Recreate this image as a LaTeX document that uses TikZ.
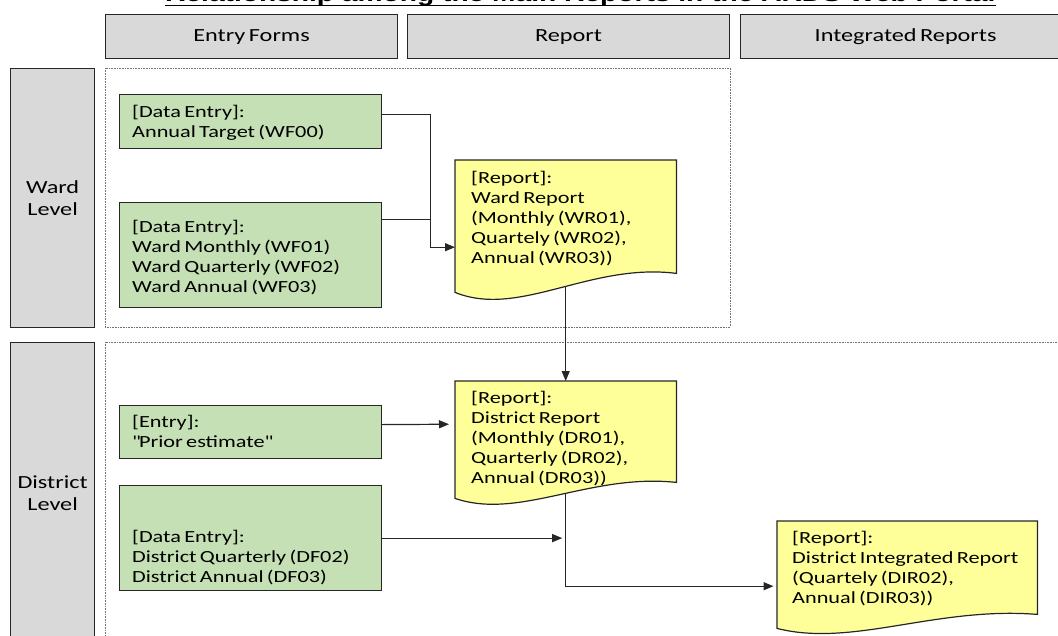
\documentclass[tikz,border=0pt]{standalone}
\usepackage{fontspec}
\setmainfont{Carlito}[FakeStretch=1.31,WordSpace=0.65]
\newfontfamily\titlefont{Liberation Sans}[FakeStretch=1.28]
\usetikzlibrary{arrows.meta,calc}

\definecolor{hdrgray}{HTML}{D9D9D9}
\definecolor{entrygreen}{HTML}{C5E0B4}
\definecolor{reportyellow}{HTML}{FFFF99}
\definecolor{edge}{HTML}{262626}

% text block whose baseline is the baseline of its first line
\newcommand\lines[1]{\begin{tabular}[t]{@{}l@{}}#1\end{tabular}}

% flowchart "document" outline drawn over an invisible node; #2 = rise of the right end
\newcommand\docshape[2]{%
  \filldraw[docbox] (#1.north west) -- (#1.north east) -- ([yshift=#2pt]#1.south east)
    .. controls ($(#1.south west)!0.61!(#1.south east)+(0,-1.58*#2)$)
    and ($(#1.south west)!0.29!(#1.south east)+(0,1.37*#2)$) .. (#1.south west) -- cycle;}

\begin{document}
\begin{tikzpicture}[x=1pt,y=-1pt,
  hdr/.style={draw=edge, line width=1.2pt, fill=hdrgray, anchor=north west,
    inner sep=0pt, minimum height=44pt, font=\fontsize{18.5}{22}\selectfont},
  lvl/.style={draw=edge, line width=1.2pt, fill=hdrgray, anchor=north west,
    inner sep=0pt, minimum width=84pt, align=center, font=\fontsize{18.5}{22}\selectfont},
  entrybox/.style={draw=edge, line width=1.2pt, fill=entrygreen, anchor=north west,
    inner sep=0pt, minimum width=262pt},
  docnode/.style={anchor=north west, inner sep=0pt},
  docbox/.style={draw=edge, line width=1.2pt, fill=reportyellow},
  txt/.style={anchor=base west, inner sep=0pt, text=black, font=\fontsize{17}{20.2}\selectfont},
  region/.style={draw=black!55, line width=0.8pt, dash pattern=on 0.8pt off 0.8pt},
  conn/.style={draw=edge, line width=1.2pt},
  arr/.style={conn, -{Triangle[length=10pt,width=8pt]}}
]
\useasboundingbox (0,0) rectangle (1058,635);
\clip (0,0) rectangle (1058,635);

% swimlane regions
\draw[region] (105,68) rectangle (730,327);
\draw[region] (105,342) rectangle (1075,660);

% column headers
\node[hdr, minimum width=292pt] (hentry) at (105,14) {Entry Forms};
\node[hdr, minimum width=322pt] (hreport) at (407,14) {Report};
\node[hdr, minimum width=330pt] (hint) at (740,14) {Integrated Reports};

% row headers
\node[lvl, minimum height=259pt] (ward) at (10,68) {Ward\\Level};
\node[lvl, minimum height=302pt] (district) at (10,342) {District\\Level};

% entry forms
\node[entrybox, minimum height=54pt] (wf00) at (119,94) {};
\node[entrybox, minimum height=105pt] (wf01) at (119,202) {};
\node[entrybox, minimum height=53pt] (prior) at (119,405) {};
\node[entrybox, minimum height=105pt] (df) at (119,485) {};

\node[txt] (wf00t) at (132,117) {\lines{[Data Entry]:\\Annual Target (WF00)}};
\node[txt] (wf01t) at (132,232) {\lines{[Data Entry]:\\Ward Monthly (WF01)\\Ward Quarterly (WF02)\\Ward Annual (WF03)}};
\node[txt] (priort) at (132,427) {\lines{[Entry]:\\\textquotedbl Prior estimate\textquotedbl}};
\node[txt] (dft) at (132,542) {\lines{[Data Entry]:\\District Quarterly (DF02)\\District Annual (DF03)}};

% report nodes (outlines drawn after the connectors)
\node[docnode, minimum width=221pt, minimum height=132pt] (wr) at (455,160) {};
\node[docnode, minimum width=221pt, minimum height=117pt] (dr) at (455,381) {};
\node[docnode, minimum width=260pt, minimum height=107pt] (dir) at (777,521) {};

% connectors
\draw[arr] ([yshift=7pt]wf00.east) -- ++(48,0) |- ([yshift=-21pt]wr.west);
\draw[conn] ([yshift=35.5pt]wf01.east) -- ++(48,0);
\draw[arr] (wr.center) -- (dr.north);
\draw[arr, shorten >=6pt] ([yshift=7.5pt]prior.east) -- ([yshift=15.5pt]dr.west);
\draw[arr, shorten >=3.5pt] (df.east) -- (df.east -| dr.center);
\draw[arr, shorten >=3.5pt] (dr.center) |- ([yshift=-11.5pt]dir.west);

% report documents
\docshape{wr}{19}
\docshape{dr}{16}
\docshape{dir}{14}

\node[txt] (wrt) at (471,183) {\lines{[Report]:\\Ward Report\\(Monthly (WR01),\\Quartely (WR02),\\Annual (WR03))}};
\node[txt] (drt) at (471,403) {\lines{[Report]:\\District Report\\(Monthly (DR01),\\Quarterly (DR02),\\Annual (DR03))}};
\node[txt] (dirt) at (792,543) {\lines{[Report]:\\District Integrated Report\\(Quartely (DIR02),\\Annual (DIR03))}};

% title
\node[anchor=base west, inner sep=0pt] (title) at (165,1.5)
  {\titlefont\bfseries\fontsize{22}{26}\selectfont Relationship among the Main Reports in the ARDS Web Portal};
\draw[line width=1.8pt] ([yshift=-4pt]title.base west) -- ([yshift=-4pt]title.base east);
\end{tikzpicture}
\end{document}
